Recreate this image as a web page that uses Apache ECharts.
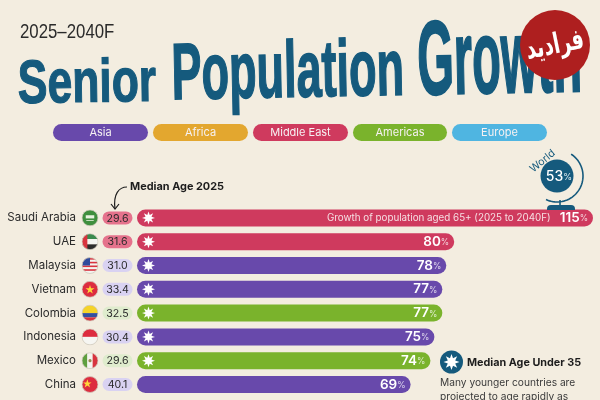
<!DOCTYPE html>
<html><head><meta charset="utf-8">
<style>html,body{margin:0;padding:0;background:#f3ede0}#c{width:600px;height:400px}</style>
<script src="https://cdn.jsdelivr.net/npm/echarts@6/dist/echarts.min.js"></script>
</head><body><div id="c"></div>
<script>
var countries = ['Saudi Arabia','UAE','Malaysia','Vietnam','Colombia','Indonesia','Mexico','China'];
var growth = [115,80,78,77,77,75,74,69];
var medianAge = ['29.6','31.6','31.0','33.4','32.5','30.4','29.6','40.1'];
var regions = ['Middle East','Middle East','Asia','Asia','Americas','Asia','Americas','Asia'];
var legendNames = ['Asia','Africa','Middle East','Americas','Europe'];
var regionColors = {'Asia':'#6849ab','Africa':'#e3a72f','Middle East':'#cf3a5e','Americas':'#7ab32c','Europe':'#4fb5e1'};
var pillColors = {'Asia':'#d9d2f2','Middle East':'#e5728c','Americas':'#dfeccd'};
var flagCodes = ['sa','ae','my','vn','co','id','mx','cn'];

var FONT='Inter', BLUE='#155a7d';
function svg(body){return 'data:image/svg+xml;charset=utf-8,'+encodeURIComponent(
 '<svg xmlns="http://www.w3.org/2000/svg" width="64" height="64" viewBox="0 0 32 32"><defs><clipPath id="k"><circle cx="16" cy="16" r="15"/></clipPath></defs><g clip-path="url(#k)">'+body+'</g><circle cx="16" cy="16" r="15" fill="none" stroke="#cfc9bb" stroke-width="1.5"/></svg>');}
function r(x,y,w,h,f){return '<rect x="'+x+'" y="'+y+'" width="'+w+'" height="'+h+'" fill="'+f+'"/>';}
var star='<polygon points="16,8 18,14 24.5,14 19.2,17.8 21.2,24 16,20.2 10.8,24 12.8,17.8 7.5,14 14,14" fill="#ffd83a"/>';
var flags={
 sa:svg(r(0,0,32,32,'#3f8f3e')+r(8,11,16,6,'#e8f2df')+r(9,20,14,1.5,'#e8f2df')),
 ae:svg(r(0,0,32,11,'#3a8a4e')+r(0,11,32,10,'#f4f4f0')+r(0,21,32,11,'#2c2c2c')+r(0,0,11,32,'#d8343f')),
 my:svg(r(0,0,32,32,'#f4f4f0')+r(0,2,32,3,'#d8343f')+r(0,9,32,3,'#d8343f')+r(0,16,32,3,'#d8343f')+r(0,23,32,3,'#d8343f')+r(0,0,16,16,'#2f4a9c')),
 vn:svg(r(0,0,32,32,'#dd2c3f')+star),
 co:svg(r(0,0,32,16,'#f5d328')+r(0,16,32,8,'#34509f')+r(0,24,32,8,'#d8343f')),
 id:svg(r(0,0,32,16,'#dd2c3f')+r(0,16,32,16,'#f6f6f2')),
 mx:svg(r(0,0,11,32,'#5f9f3f')+r(11,0,10,32,'#f4f4f0')+r(21,0,11,32,'#d8343f')+'<circle cx="16" cy="16" r="3" fill="#9a8a50"/>'),
 cn:svg(r(0,0,32,32,'#dd2c3f')+'<polygon points="11,6 13,12 19,12 14.2,15.6 16,21.5 11,18 6,21.5 7.8,15.6 3,12 9,12" fill="#ffd83a"/>')
};
function starPoints(cx,cy,R,ri,n){var p=[];for(var i=0;i<n*2;i++){var a=Math.PI*i/n-Math.PI/2,q=i%2?ri:R;p.push([cx+q*Math.cos(a),cy+q*Math.sin(a)]);}return p;}
function arcPoints(cx,cy,R,a0,a1){var p=[];for(var d=a0;d<=a1;d+=4){var a=d*Math.PI/180;p.push([cx+R*Math.cos(a),cy+R*Math.sin(a)]);}return p;}

var graphics=[];
function T(t,x,y,o,el){graphics.push(Object.assign({type:'text',x:x,y:y,z:10,silent:true,style:Object.assign({text:t,fontFamily:FONT,fill:'#222',align:'left',verticalAlign:'middle'},o||{})},el||{}));}
T('2025–2040F',20,32,{fontFamily:'Liberation Sans',fontSize:21,fill:'#2a2a2a'},{scaleX:0.8});
function word(t,x,base,sx,sy,rot){graphics.push({type:'text',x:x,y:base,scaleX:sx,scaleY:sy,rotation:rot,silent:true,style:{text:t,fontFamily:'Liberation Sans',fontWeight:'bold',fontSize:100,fill:BLUE,stroke:BLUE,lineWidth:2,align:'left',verticalAlign:'middle',y:-31}});}
word('Senior',18,105,0.445,0.61,0.015);
word('Population',172,102,0.45,0.8,0.02);
word('Growth',418,98,0.47,1.05,0.02);
// legend pills
[[53,95],[153,95],[253,95],[353,94],[452,95]].forEach(function(b,i){
 graphics.push({type:'rect',silent:true,shape:{x:b[0],y:124,width:b[1],height:17,r:8.5},style:{fill:regionColors[legendNames[i]]}});
 T(legendNames[i],b[0]+b[1]/2,132.8,{align:'center',fontSize:11,fill:'#f6f1f2'});
});
// watermark
graphics.push({type:'circle',z:9,silent:true,shape:{cx:555,cy:45,r:35},style:{fill:'#ae1f1f'}});
T('فرادید',555,46,{align:'center',fontFamily:'DejaVu Sans',fontWeight:'bold',fontSize:19,fill:'#fff'},{rotation:0.2,scaleY:1.5});
// median age callout
T('Median Age 2025',130,186.5,{fontSize:10.9,fontWeight:'bold',fill:'#1d1d1d'});
graphics.push({type:'bezierCurve',silent:true,shape:{x1:127,y1:187,cpx1:119,cpy1:187,cpx2:113,cpy2:194,x2:115,y2:209},style:{fill:'none',stroke:'#1d1d1d',lineWidth:1.2}});
graphics.push({type:'polyline',silent:true,shape:{points:[[111,204],[115,209],[119,204]]},style:{fill:'none',stroke:'#1d1d1d',lineWidth:1.2}});
// saudi caption
T('Growth of population aged 65+ (2025 to 2040F)',327,218.5,{fontSize:9.8,fill:'#f6dfe3'});
// globe
graphics.push({type:'polyline',z:10,silent:true,shape:{points:arcPoints(557,176,26,-57,117)},style:{fill:'none',stroke:BLUE,lineWidth:1.6}});
graphics.push({type:'line',z:10,silent:true,shape:{x1:560,y1:200,x2:560,y2:205},style:{fill:'none',stroke:BLUE,lineWidth:1.6}});
graphics.push({type:'circle',z:10,silent:true,shape:{cx:557,cy:176,r:16.5},style:{fill:BLUE}});
graphics.push({type:'rect',z:10,silent:true,shape:{x:547,y:205,width:28,height:5,r:[4,4,0,0]},style:{fill:BLUE}});
T('World',542.5,161,{align:'center',fontSize:10.5,fill:BLUE},{rotation:0.68});
graphics.push({type:'text',z:11,silent:true,x:559,y:177,style:{rich:{a:{fontFamily:FONT,fontSize:14,fontWeight:500,fill:'#fff'},b:{fontFamily:FONT,fontSize:9,fill:'#dbe8ee'}},text:'{a|53}{b|%}',align:'center',verticalAlign:'middle'}});
// note
graphics.push({type:'circle',silent:true,shape:{cx:451.5,cy:362,r:11.5},style:{fill:BLUE}});
graphics.push({type:'polygon',silent:true,shape:{points:starPoints(451.5,362,8,4,8)},style:{fill:'#fff'}});
T('Median Age Under 35',467,363,{fontSize:10.8,fontWeight:'bold',fill:'#1d1d1d'});
T('Many younger countries are',440,383,{fontSize:10.2,fill:'#3a3a3a'});
T('projected to age rapidly as',440,396.5,{fontSize:10.2,fill:'#3a3a3a'});

var chart=echarts.init(document.getElementById('c'),null,{renderer:'canvas'});
chart.setOption({
 animation:false,
 backgroundColor:'#f3ede0',
 textStyle:{fontFamily:FONT},
 grid:{left:137,right:7,top:206,height:190.4,containLabel:false},
 xAxis:{type:'value',min:0,max:115,show:false},
 yAxis:{type:'category',inverse:true,data:countries,axisLine:{show:false},axisTick:{show:false},
  axisLabel:{margin:61,color:'#2b2b2b',fontSize:11.5,fontFamily:FONT}},
 graphic:graphics,
 series:[
  {type:'bar',barWidth:17,silent:true,
   data:growth.map(function(v,i){return {value:v,itemStyle:{color:regionColors[regions[i]],borderRadius:8.5}};}),
   label:{show:true,position:'insideRight',distance:5,formatter:function(p){return '{v|'+p.value+'}{u|%}';},
    rich:{v:{fontFamily:FONT,fontSize:13.5,fontWeight:600,color:'#fff'},u:{fontFamily:FONT,fontSize:8.5,color:'rgba(255,255,255,0.75)',padding:[2,0,0,0]}}}},
  {type:'custom',silent:true,z:5,data:countries.map(function(c,i){return i;}),
   encode:{y:0},
   renderItem:function(params,api){
    var i=params.dataIndex,p=api.coord([0,i]),x=p[0],y=p[1],ch=[];
    ch.push({type:'image',style:{image:flags[flagCodes[i]],x:x-55.5,y:y-8.5,width:17,height:17}});
    ch.push({type:'rect',shape:{x:x-34.5,y:y-6.5,width:30,height:13,r:6.5},style:{fill:pillColors[regions[i]]}});
    ch.push({type:'text',style:{text:medianAge[i],x:x-19.5,y:y+0.5,align:'center',verticalAlign:'middle',fontFamily:FONT,fontSize:10.6,fill:'#2a2a2a'}});
    if(parseFloat(medianAge[i])<35) ch.push({type:'polygon',shape:{points:starPoints(x+11.5,y,6.5,3.2,8)},style:{fill:'#fff'}});
    return {type:'group',children:ch};
   }}
 ]
});
</script></body></html>
